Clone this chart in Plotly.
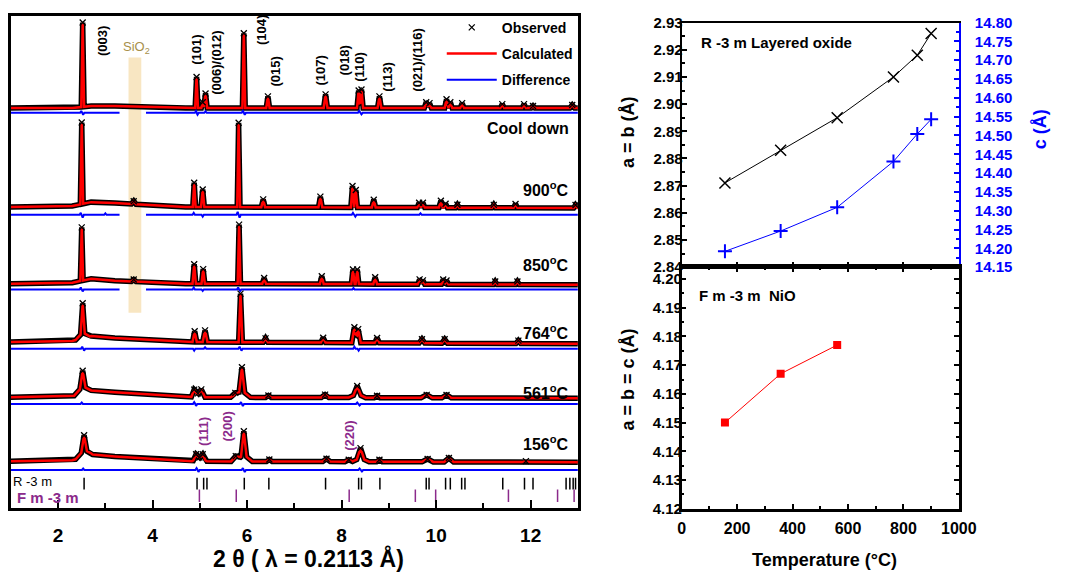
import numpy as np
import plotly.graph_objects as go

FONT = "Liberation Sans, Arial, sans-serif"
PURPLE = "#8b2a8b"

# ---------------- Left panel data: in-situ diffraction patterns ----------------
PATTERN_NAMES = ["Cool down", "900<sup>o</sup>C", "850<sup>o</sup>C",
                 "764<sup>o</sup>C", "561<sup>o</sup>C", "156<sup>o</sup>C"]
# vertical stacking offsets (arbitrary intensity units)
PATTERN_OFFSETS = [412, 310, 231, 171, 114, 48]
DIFF_OFFSETS = [407, 302, 225, 164, 107, 39]

# background knots (2theta) and background level per pattern
BG_TT = [1.0, 2.3, 2.7, 3.2, 4.7, 13.0]
BG_COOL = [0, 0, 2, 2, 0, 0]
BG_900 = [0, 1, 5, 4, 0, -1]
BG_850 = [0, 1, 5, 3, 0, -1]
BG_764 = [0, 1, 6, 4, 0, -2]
BG_561 = [0, 1, 7, 5, 0, -1]
BG_156 = [0, 1, 7, 5, 0, -1]

# peaks: (2theta, height, half base width)
PEAKS_COOL = [(2.52, 87, 0.03), (4.93, 32, 0.03), (5.06, 6, 0.03), (5.12, 15, 0.035),
              (5.93, 77, 0.03), (6.44, 12, 0.035), (7.66, 14, 0.04), (8.36, 18, 0.035),
              (8.42, 19, 0.035), (8.80, 12, 0.04), (9.79, 6, 0.04), (9.86, 5, 0.04),
              (10.22, 9, 0.04), (10.30, 6, 0.04), (10.55, 5, 0.04), (11.40, 4, 0.04),
              (11.86, 4, 0.04), (12.05, 2, 0.04), (12.88, 3, 0.05)]
PEAKS_900 = [(2.50, 84, 0.03), (3.60, 3, 0.05), (4.88, 25, 0.03), (5.06, 18, 0.035),
             (5.82, 87, 0.03), (6.34, 8, 0.04), (7.55, 11, 0.04), (8.23, 22, 0.035),
             (8.30, 18, 0.035), (8.68, 8, 0.04), (9.64, 5, 0.04), (9.72, 5, 0.04),
             (10.10, 7, 0.04), (10.20, 4, 0.04), (10.45, 3, 0.04), (11.22, 3, 0.04),
             (11.68, 4, 0.04), (12.95, 3, 0.04)]
PEAKS_850 = [(2.50, 55, 0.03), (3.60, 2, 0.05), (4.88, 20, 0.035), (5.07, 15, 0.035),
             (5.83, 61, 0.03), (6.36, 6, 0.04), (7.58, 8, 0.04), (8.24, 15, 0.035),
             (8.33, 15, 0.035), (8.71, 7, 0.04), (9.65, 5, 0.04), (9.72, 4, 0.04),
             (10.15, 5, 0.04), (10.22, 4, 0.04), (11.25, 3, 0.04), (11.72, 3, 0.04)]
PEAKS_764 = [(2.52, 30, 0.045), (2.52, 6, 0.15), (4.89, 11, 0.045), (5.11, 12, 0.05),
             (5.86, 50, 0.04), (6.39, 4, 0.05), (7.61, 5, 0.05), (8.27, 16, 0.055),
             (8.35, 14, 0.055), (8.75, 5, 0.05), (9.70, 4, 0.06), (10.18, 4, 0.06),
             (11.74, 3, 0.05)]
PEAKS_561 = [(2.52, 16, 0.06), (2.52, 7, 0.18), (4.88, 6, 0.06), (5.03, 6, 0.06),
             (4.96, 4, 0.15), (5.75, 3, 0.10), (5.89, 24, 0.06), (5.89, 7, 0.18),
             (6.45, 2, 0.06), (7.65, 3, 0.08), (8.33, 8, 0.08), (8.33, 4, 0.18),
             (8.75, 2, 0.06), (9.80, 3, 0.12), (10.22, 3, 0.10)]
PEAKS_156 = [(2.55, 15, 0.06), (2.55, 7, 0.18), (4.92, 5, 0.06), (5.06, 5, 0.06),
             (4.99, 4, 0.16), (5.76, 5, 0.10), (5.93, 24, 0.06), (5.93, 7, 0.18),
             (6.47, 2, 0.06), (7.68, 3, 0.08), (8.15, 2, 0.08), (8.40, 10, 0.08),
             (8.40, 4, 0.18), (8.80, 2, 0.06), (9.82, 3, 0.12), (10.27, 4, 0.10),
             (11.90, 1, 0.08)]

# difference-curve features: (2theta, amplitude)
DIFF_COOL = [(2.49, 2), (2.53, -2), (4.92, 2), (4.95, -2), (5.12, 1.5), (5.91, 2),
             (5.95, -2), (8.37, 2), (8.42, -1.5)]
DIFF_900 = [(2.48, 2), (2.52, -3), (3.00, 1.5), (4.87, 2), (5.06, -2), (5.80, 3),
            (5.84, -3), (8.24, 2), (8.29, -2), (9.67, 1.5)]
DIFF_850 = [(2.48, 2), (2.52, -2), (4.87, 2), (5.06, -1.5), (5.81, 2), (5.85, -2),
            (8.25, 1.5)]
DIFF_764 = [(2.51, 2), (2.55, -2), (4.88, -2), (5.11, 1.5), (5.84, 2), (5.88, -2),
            (8.27, 2), (8.36, -2)]
DIFF_561 = [(2.50, 1.5), (4.88, 2), (4.92, -2), (5.87, 2), (5.91, -2), (8.33, 1.5),
            (8.38, -1.5)]
DIFF_156 = [(2.53, 1.5), (4.93, 2), (4.97, -2), (5.91, 2), (5.95, -2), (8.38, 1.5),
            (8.43, -1.5)]
# excluded (SiO2) region in the difference curves of the first three patterns
EXCLUDED = (3.30, 3.86)
EXCLUDED_IN = [True, True, True, False, False, False]
SIO2_BAND = (3.49, 3.76)

# Bragg reflection positions
R3M_TICKS = [2.55, 4.94, 5.08, 5.15, 5.94, 6.46, 7.66, 8.36, 8.42, 8.81, 9.79, 9.85,
             10.20, 10.30, 10.54, 10.61, 11.41, 11.87, 12.05, 12.75, 12.83, 12.90, 12.95]
FM3M_TICKS = [4.99, 5.77, 8.16, 9.56, 9.99, 11.53, 12.57, 12.92]

# hkl labels
HKL_R3M = ["(003)", "(101)", "(006)/(012)", "(104)", "(015)", "(107)", "(018)",
           "(110)", "(113)", "(021)/(116)"]
HKL_FM3M = ["(111)", "(200)", "(220)"]

# ---------------- Right panels data ----------------
T_R3M = [156, 357, 561, 764, 850, 900]
A_R3M = [2.871, 2.883, 2.895, 2.910, 2.918, 2.926]
C_R3M = [14.192, 14.246, 14.309, 14.431, 14.504, 14.543]
T_NIO = [156, 357, 561]
A_NIO = [4.150, 4.167, 4.177]

# ---------------- layout constants (positions) ----------------
HKL_R3M_POS = [(2.93, 481), (4.94, 472), (5.35, 459), (6.31, 492), (6.60, 450),
               (7.55, 451), (8.05, 461), (8.38, 454), (8.98, 444), (9.60, 462)]
HKL_FM3M_POS = [(5.06, 79), (5.58, 84), (8.15, 74)]
NAME_X = 12.86
NAME_Y = [391, 329, 251, 181, 119, 67]


def profile(bg, peaks):
    xs = set(BG_TT)
    for p, h, w in peaks:
        xs.update([p - w, p, p + w])
    xs = np.array(sorted(xs))
    y = np.interp(xs, BG_TT, bg)
    for p, h, w in peaks:
        y = y + np.interp(xs, [p - w, p, p + w], [0, h, 0])
    return xs, y


def diff_curve(feats, excluded):
    xs = {1.0, 13.0}
    hw = 0.025
    for p, a in feats:
        xs.update([p - hw, p, p + hw])
    if excluded:
        xs.update(EXCLUDED)
    xs = np.array(sorted(xs))
    y = np.zeros_like(xs)
    for p, a in feats:
        y = y + np.interp(xs, [p - hw, p, p + hw], [0, a, 0])
    xl, yl = [], []
    for xv, yv in zip(xs, y):
        if excluded and EXCLUDED[0] < xv < EXCLUDED[1]:
            continue
        xl.append(float(xv))
        yl.append(float(yv))
        if excluded and abs(xv - EXCLUDED[0]) < 1e-9:
            xl.append(None)
            yl.append(None)
    return xl, yl


fig = go.Figure()

BGS = [BG_COOL, BG_900, BG_850, BG_764, BG_561, BG_156]
PEAKS = [PEAKS_COOL, PEAKS_900, PEAKS_850, PEAKS_764, PEAKS_561, PEAKS_156]
DIFFS = [DIFF_COOL, DIFF_900, DIFF_850, DIFF_764, DIFF_561, DIFF_156]

for i in range(6):
    xs, y = profile(BGS[i], PEAKS[i])
    yy = y + PATTERN_OFFSETS[i]
    first = i == 0
    # observed band
    fig.add_trace(go.Scatter(x=xs, y=yy, mode="lines", line=dict(color="black", width=5.5),
                             showlegend=False, hoverinfo="skip", xaxis="x", yaxis="y"))
    # calculated
    fig.add_trace(go.Scatter(x=xs, y=yy, mode="lines", line=dict(color="#ff0000", width=2.5),
                             name="<b>Calculated</b>", legendgroup="calc", legendrank=2,
                             showlegend=first, xaxis="x", yaxis="y"))
    # observed points at the peak maxima
    px = sorted({p for p, h, w in PEAKS[i]})
    py = [float(yy[np.argmin(np.abs(xs - p))]) for p in px]
    fig.add_trace(go.Scatter(x=px, y=py, mode="markers",
                             marker=dict(symbol="x-thin", size=6, color="black",
                                         line=dict(color="black", width=1.3)),
                             name="<b>Observed</b>", legendgroup="obs", legendrank=1,
                             showlegend=first, xaxis="x", yaxis="y"))
    dx, dy = diff_curve(DIFFS[i], EXCLUDED_IN[i])
    dy = [None if v is None else v + DIFF_OFFSETS[i] for v in dy]
    fig.add_trace(go.Scatter(x=dx, y=dy, mode="lines", line=dict(color="#0000ff", width=2),
                             name="<b>Difference</b>", legendgroup="diff", legendrank=3,
                             showlegend=first, connectgaps=False, xaxis="x", yaxis="y"))

# Bragg tick rows
rx, ry = [], []
for t in R3M_TICKS:
    rx += [t, t, None]
    ry += [19, 31, None]
fig.add_trace(go.Scatter(x=rx, y=ry, mode="lines", line=dict(color="black", width=1.5),
                         showlegend=False, hoverinfo="skip", xaxis="x", yaxis="y"))
fx, fy = [], []
for t in FM3M_TICKS:
    fx += [t, t, None]
    fy += [6, 19, None]
fig.add_trace(go.Scatter(x=fx, y=fy, mode="lines", line=dict(color=PURPLE, width=1.5),
                         showlegend=False, hoverinfo="skip", xaxis="x", yaxis="y"))

# ---------------- right panels ----------------
fig.add_trace(go.Scatter(x=T_R3M, y=A_R3M, mode="lines+markers",
                         line=dict(color="black", width=1),
                         marker=dict(symbol="x-thin", size=11, color="black",
                                     line=dict(color="black", width=1.5)),
                         showlegend=False, xaxis="x2", yaxis="y2"))
fig.add_trace(go.Scatter(x=T_R3M, y=C_R3M, mode="lines+markers",
                         line=dict(color="#0000ff", width=1),
                         marker=dict(symbol="cross-thin", size=10, color="#0000ff",
                                     line=dict(color="#0000ff", width=2)),
                         showlegend=False, xaxis="x2", yaxis="y3"))
fig.add_trace(go.Scatter(x=T_NIO, y=A_NIO, mode="lines+markers",
                         line=dict(color="#ff0000", width=1),
                         marker=dict(symbol="square", size=8, color="#ff0000"),
                         showlegend=False, xaxis="x3", yaxis="y4"))

tickfont = dict(family=FONT, size=19, color="black", weight="bold")
rtick = dict(family=FONT, size=15, color="black", weight="bold")
xtick = dict(family=FONT, size=16, color="black", weight="bold")
btick = dict(family=FONT, size=15, color="#0000ff", weight="bold")

fig.update_layout(
    width=1065, height=577,
    margin=dict(l=0, r=0, t=0, b=0),
    paper_bgcolor="white", plot_bgcolor="white",
    font=dict(family=FONT),
    showlegend=True,
    legend=dict(x=447 / 1065, y=0.995, xanchor="left", yanchor="top",
                bgcolor="rgba(0,0,0,0)", itemwidth=50, traceorder="grouped",
                tracegroupgap=5, font=dict(family=FONT, size=14, color="black")),
    xaxis=dict(domain=[7 / 1065, 586 / 1065], range=[1, 13], anchor="y",
               showline=True, linecolor="black", linewidth=2.5, mirror=True,
               ticks="inside", tickvals=[2, 4, 6, 8, 10, 12], ticklen=8, tickwidth=2,
               tickcolor="black", ticklabelstandoff=9,
               minor=dict(tickvals=[3, 5, 7, 9, 11], ticks="inside", ticklen=5,
                          tickwidth=2, tickcolor="black"),
               tickfont=tickfont, showgrid=False, zeroline=False),
    yaxis=dict(domain=[(577 - 514) / 577, (577 - 7) / 577], range=[0, 507], anchor="x",
               showline=True, linecolor="black", linewidth=2.5, mirror=True,
               showticklabels=False, ticks="", showgrid=False, zeroline=False),
    xaxis2=dict(domain=[692 / 1065, 975 / 1065], range=[0, 1000], anchor="y2",
                showline=True, linecolor="black", linewidth=2, mirror=True,
                ticks="inside", dtick=200, ticklen=5, tickwidth=1.5, tickcolor="black",
                minor=dict(dtick=100, ticks="inside", ticklen=3, tickcolor="black"),
                showticklabels=False, showgrid=False, zeroline=False),
    yaxis2=dict(domain=[(577 - 266) / 577, (577 - 14) / 577], range=[2.84, 2.93],
                anchor="x2", showline=True, linecolor="black", linewidth=2,
                ticks="inside", dtick=0.01, tick0=2.84, tickformat=".2f", ticklen=5,
                tickwidth=1.5, tickcolor="black", ticklabelstandoff=-6,
                minor=dict(dtick=0.005, ticks="inside", ticklen=3, tickcolor="black"),
                tickfont=rtick, showgrid=False, zeroline=False),
    yaxis3=dict(overlaying="y2", side="right", anchor="x2", range=[14.15, 14.80],
                showline=True, linecolor="#0000ff", linewidth=2,
                ticks="inside", dtick=0.05, tick0=14.15, tickformat=".2f", ticklen=5,
                tickwidth=1.5, tickcolor="#0000ff", ticklabelstandoff=11,
                minor=dict(dtick=0.025, ticks="inside", ticklen=3, tickcolor="#0000ff"),
                tickfont=btick, showgrid=False, zeroline=False),
    xaxis3=dict(domain=[692 / 1065, 975 / 1065], range=[0, 1000], anchor="y4",
                showline=True, linecolor="black", linewidth=2.5, mirror="allticks",
                ticks="inside", dtick=200, ticklen=5, tickwidth=1.5, tickcolor="black",
                ticklabelstandoff=3,
                minor=dict(dtick=100, ticks="inside", ticklen=3, tickcolor="black"),
                tickfont=xtick, showgrid=False, zeroline=False),
    yaxis4=dict(domain=[(577 - 515) / 577, (577 - 266) / 577], range=[4.12, 4.2041],
                anchor="x3", showline=True, linecolor="black", linewidth=2.5,
                mirror="allticks", ticks="inside", dtick=0.01, tick0=4.12,
                tickformat=".2f", ticklen=5, tickwidth=1.5, tickcolor="black",
                ticklabelstandoff=-6,
                minor=dict(dtick=0.005, ticks="inside", ticklen=3, tickcolor="black"),
                tickfont=rtick, showgrid=False, zeroline=False),
)

# SiO2 excluded band
fig.add_shape(type="rect", xref="x", yref="y", x0=SIO2_BAND[0], x1=SIO2_BAND[1],
              y0=201, y1=464, fillcolor="#f8e6c2", line=dict(width=0), layer="below")

ann = []
for txt, (xp, yp) in zip(HKL_R3M, HKL_R3M_POS):
    ann.append(dict(x=xp, y=yp, xref="x", yref="y", text=f"<b>{txt}</b>", textangle=-90,
                    xanchor="center", yanchor="middle", showarrow=False,
                    font=dict(family=FONT, size=13, color="black")))
for txt, (xp, yp) in zip(HKL_FM3M, HKL_FM3M_POS):
    ann.append(dict(x=xp, y=yp, xref="x", yref="y", text=f"<b>{txt}</b>", textangle=-90,
                    xanchor="center", yanchor="middle", showarrow=False,
                    font=dict(family=FONT, size=13, color=PURPLE)))
for txt, yp in zip(PATTERN_NAMES, NAME_Y):
    ann.append(dict(x=NAME_X, y=yp, xref="x", yref="y", text=f"<b>{txt}</b>",
                    xanchor="right", yanchor="middle", showarrow=False,
                    font=dict(family=FONT, size=16, color="black")))
ann.append(dict(x=3.65, y=474, xref="x", yref="y", text="SiO<sub>2</sub>", showarrow=False,
                xanchor="center", yanchor="middle",
                font=dict(family=FONT, size=13, color="#a8904a")))
ann.append(dict(x=1.0, y=27, xref="x", yref="y", text="R -3 m", xanchor="left",
                yanchor="middle", showarrow=False,
                font=dict(family=FONT, size=13, color="black")))
ann.append(dict(x=1.08, y=11, xref="x", yref="y", text="<b>F m -3 m</b>", xanchor="left",
                yanchor="middle", showarrow=False,
                font=dict(family=FONT, size=15, color=PURPLE)))
ann.append(dict(x=311 / 1065, y=(577 - 566) / 577, xref="paper", yref="paper",
                text="<b>2 θ ( λ = 0.2113 Å)</b>", showarrow=False,
                xanchor="center", yanchor="middle",
                font=dict(family=FONT, size=23, color="black")))
# right-panel texts
ann.append(dict(x=710 / 1065, y=(577 - 35) / 577, xref="paper", yref="paper",
                text="<b>R -3 m Layered oxide</b>", xanchor="left", yanchor="middle",
                showarrow=False, font=dict(family=FONT, size=15, color="black")))
ann.append(dict(x=708 / 1065, y=(577 - 295) / 577, xref="paper", yref="paper",
                text="<b>F m -3 m  NiO</b>", xanchor="left", yanchor="middle",
                showarrow=False, font=dict(family=FONT, size=15, color="black")))
ann.append(dict(x=637 / 1065, y=(577 - 127) / 577, xref="paper", yref="paper",
                text="<b>a = b (Å)</b>", textangle=-90, showarrow=False,
                xanchor="center", yanchor="middle",
                font=dict(family=FONT, size=18, color="black")))
ann.append(dict(x=637 / 1065, y=(577 - 382) / 577, xref="paper", yref="paper",
                text="<b>a = b = c (Å)</b>", textangle=-90, showarrow=False,
                xanchor="center", yanchor="middle",
                font=dict(family=FONT, size=18, color="black")))
ann.append(dict(x=1.0, y=(577 - 124) / 577, xref="paper", yref="paper",
                text="<b>c (Å)</b>", textangle=-90, showarrow=False,
                xanchor="right", yanchor="middle", xshift=5,
                font=dict(family=FONT, size=18, color="#0000ff")))
ann.append(dict(x=838 / 1065, y=(577 - 568) / 577, xref="paper", yref="paper",
                text="<b>Temperature (°C)</b>", showarrow=False,
                xanchor="center", yanchor="middle",
                font=dict(family=FONT, size=18, color="black")))
fig.update_layout(annotations=ann)

fig.write_html("out.html")
